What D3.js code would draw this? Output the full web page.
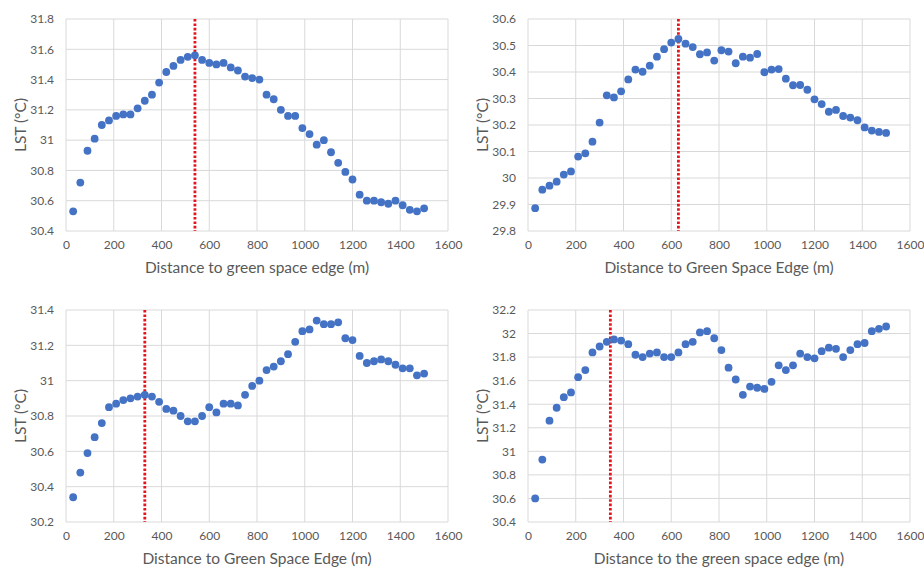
<!DOCTYPE html>
<html>
<head>
<meta charset="utf-8">
<script src="https://cdn.jsdelivr.net/npm/d3@7"></script>
<style>
  body { margin: 0; background: #fff; }
  svg text { font-family: Lato, "Open Sans", sans-serif; fill: #595959; }
</style>
</head>
<body>
<div id="chart"></div>
<script>
// distance bins (m), shared by all four panels
const distances = d3.range(1, 51).map(i => i * 30);

// LST values
const lstA = [30.53, 30.72, 30.93, 31.01, 31.10, 31.13, 31.16, 31.17, 31.17, 31.21,
  31.26, 31.30, 31.38, 31.45, 31.49, 31.53, 31.55, 31.56, 31.53, 31.51,
  31.50, 31.51, 31.48, 31.46, 31.42, 31.41, 31.40, 31.30, 31.27, 31.20,
  31.16, 31.16, 31.08, 31.04, 30.97, 31.00, 30.92, 30.85, 30.79, 30.74,
  30.64, 30.60, 30.60, 30.59, 30.58, 30.60, 30.57, 30.54, 30.53, 30.55];
const lstB = [29.886, 29.956, 29.971, 29.986, 30.013, 30.025, 30.081, 30.093, 30.137, 30.209,
  30.312, 30.304, 30.327, 30.372, 30.409, 30.401, 30.424, 30.458, 30.486, 30.511,
  30.525, 30.507, 30.494, 30.467, 30.474, 30.443, 30.482, 30.477, 30.433, 30.458,
  30.454, 30.468, 30.399, 30.409, 30.411, 30.375, 30.350, 30.351, 30.333, 30.297,
  30.279, 30.250, 30.257, 30.234, 30.228, 30.218, 30.191, 30.179, 30.174, 30.170];
const lstC = [30.34, 30.48, 30.59, 30.68, 30.76, 30.85, 30.87, 30.89, 30.90, 30.91,
  30.92, 30.91, 30.88, 30.84, 30.83, 30.80, 30.77, 30.77, 30.80, 30.85,
  30.82, 30.87, 30.87, 30.86, 30.92, 30.97, 31.00, 31.06, 31.08, 31.11,
  31.15, 31.22, 31.28, 31.29, 31.34, 31.32, 31.32, 31.33, 31.24, 31.23,
  31.14, 31.10, 31.11, 31.12, 31.11, 31.09, 31.07, 31.07, 31.03, 31.04];
const lstD = [30.60, 30.93, 31.26, 31.37, 31.46, 31.50, 31.63, 31.69, 31.84, 31.89,
  31.93, 31.95, 31.94, 31.91, 31.82, 31.80, 31.83, 31.84, 31.80, 31.80,
  31.84, 31.91, 31.93, 32.01, 32.02, 31.96, 31.86, 31.71, 31.61, 31.48,
  31.55, 31.54, 31.53, 31.59, 31.73, 31.69, 31.73, 31.83, 31.80, 31.79,
  31.85, 31.88, 31.87, 31.80, 31.86, 31.91, 31.92, 32.02, 32.04, 32.06];

const xTicks = [0, 200, 400, 600, 800, 1000, 1200, 1400, 1600];
const yTicksA = [30.4, 30.6, 30.8, 31, 31.2, 31.4, 31.6, 31.8];
const yTicksB = [29.8, 29.9, 30, 30.1, 30.2, 30.3, 30.4, 30.5, 30.6];
const yTicksC = [30.2, 30.4, 30.6, 30.8, 31, 31.2, 31.4];
const yTicksD = [30.4, 30.6, 30.8, 31, 31.2, 31.4, 31.6, 31.8, 32, 32.2];

const xTitles = [
  'Distance to green space edge (m)',
  'Distance to Green Space Edge (m)',
  'Distance to Green Space Edge (m)',
  'Distance to the green space edge (m)'
];
const thresholds = [540, 630, 330, 345];

const panels = [
  { values: lstA, yTicks: yTicksA, left: 66, top: 19, bottom: 231 },
  { values: lstB, yTicks: yTicksB, left: 528, top: 19, bottom: 231 },
  { values: lstC, yTicks: yTicksC, left: 66, top: 310, bottom: 522 },
  { values: lstD, yTicks: yTicksD, left: 528, top: 310, bottom: 522 }
];
const plotWidth = 382;

const svg = d3.select('#chart')
  .append('svg')
  .attr('width', 924)
  .attr('height', 567);

panels.forEach((p, k) => {
  const x = d3.scaleLinear()
    .domain([0, 1600])
    .range([p.left, p.left + plotWidth]);
  const y = d3.scaleLinear()
    .domain(d3.extent(p.yTicks))
    .range([p.bottom, p.top]);

  const g = svg.append('g');

  // gridlines, Excel style
  g.append('g')
    .selectAll('line.h')
    .data(p.yTicks)
    .enter()
    .append('line')
    .attr('x1', x(0)).attr('x2', x(1600))
    .attr('y1', d => y(d)).attr('y2', d => y(d))
    .attr('stroke', '#d9d9d9')
    .attr('stroke-width', 1);
  g.append('g')
    .selectAll('line.v')
    .data(xTicks)
    .enter()
    .append('line')
    .attr('x1', d => x(d)).attr('x2', d => x(d))
    .attr('y1', p.top).attr('y2', p.bottom)
    .attr('stroke', '#d9d9d9')
    .attr('stroke-width', 1);

  // axes with no domain line or tick marks
  const bottomAxis = d3.axisBottom(x).tickValues(xTicks).tickSize(0).tickPadding(9)
    .tickFormat(d3.format('d'));
  const leftAxis = d3.axisLeft(y).tickValues(p.yTicks).tickSize(0).tickPadding(12)
    .tickFormat(d3.format('~g'));

  g.append('g')
    .attr('transform', `translate(0, ${p.bottom})`)
    .call(bottomAxis)
    .call(a => a.select('.domain').remove())
    .selectAll('text')
    .style('font-size', '12px')
    .attr('fill', '#595959');
  g.append('g')
    .attr('transform', `translate(${p.left}, 0)`)
    .call(leftAxis)
    .call(a => a.select('.domain').remove())
    .selectAll('text')
    .style('font-size', '12px')
    .attr('fill', '#595959');

  // red dotted threshold
  g.append('line')
    .attr('x1', x(thresholds[k])).attr('x2', x(thresholds[k]))
    .attr('y1', p.top).attr('y2', p.bottom)
    .attr('stroke', '#e8141c')
    .attr('stroke-width', 2.8)
    .attr('stroke-dasharray', '2.6,1.8');

  // points
  g.append('g')
    .selectAll('circle')
    .data(p.values)
    .enter()
    .append('circle')
    .attr('cx', (d, i) => x(distances[i]))
    .attr('cy', d => y(d))
    .attr('r', 3.9)
    .attr('fill', '#4472c4');

  // titles
  g.append('text')
    .attr('x', p.left + plotWidth / 2)
    .attr('y', p.bottom + 42)
    .attr('text-anchor', 'middle')
    .style('font-size', '15.5px')
    .text(xTitles[k]);
  g.append('text')
    .attr('transform', `translate(${p.left - 40}, ${(p.top + p.bottom) / 2}) rotate(-90)`)
    .attr('text-anchor', 'middle')
    .style('font-size', '15.5px')
    .text('LST (°C)');
});
</script>
</body>
</html>
